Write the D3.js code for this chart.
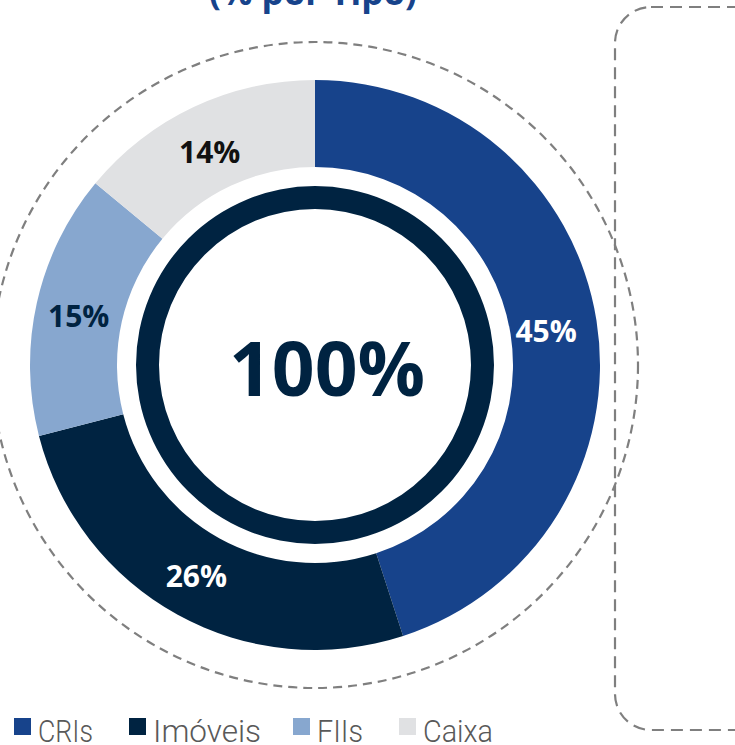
<!DOCTYPE html>
<html>
<head>
<meta charset="utf-8">
<script src="https://cdn.jsdelivr.net/npm/d3@7"></script>
<style>
  body { margin: 0; background: #fff; }
  svg { display: block; }
</style>
</head>
<body>
<div id="chart"></div>
<script>
// data
var categories = ["CRIs", "Imóveis", "FIIs", "Caixa"];
var values = [45, 26, 15, 14];
var colors = ["#17438b", "#002341", "#87a7cf", "#e0e1e3"];
var labelColors = ["#ffffff", "#ffffff", "#002341", "#111111"];
var totalLabel = "100%";
var title = "(% por Tipo)";

var width = 735, height = 745;
var cx = 315, cy = 365;

var svg = d3.select("#chart").append("svg")
    .attr("width", width)
    .attr("height", height);

// title (cut at the top)
svg.append("text")
    .attr("x", 313)
    .attr("y", 5)
    .attr("text-anchor", "middle")
    .style("font-family", "'Open Sans', sans-serif")
    .style("font-weight", "bold")
    .style("font-size", "35px")
    .style("fill", "#17438b")
    .text(title);

// dashed rounded box at the right
svg.append("rect")
    .attr("x", 615)
    .attr("y", 7)
    .attr("width", 200)
    .attr("height", 723)
    .attr("rx", 36)
    .attr("ry", 36)
    .style("fill", "none")
    .style("stroke", "#7f7f7f")
    .style("stroke-width", 2.2)
    .style("stroke-dasharray", "12,7");

var g = svg.append("g")
    .attr("transform", "translate(" + cx + "," + cy + ")");

// dashed outer circle
g.append("circle")
    .attr("r", 323)
    .style("fill", "none")
    .style("stroke", "#7f7f7f")
    .style("stroke-width", 2.2)
    .style("stroke-dasharray", "9,6");

var pie = d3.pie().sort(null).value(function(d) { return d; });
var arcs = pie(values);

var arc = d3.arc().innerRadius(198).outerRadius(285);
var labelArc = d3.arc().innerRadius(238).outerRadius(238);

g.selectAll("path.slice")
    .data(arcs)
    .enter().append("path")
    .attr("class", "slice")
    .attr("d", arc)
    .style("fill", function(d, i) { return colors[i]; });

g.selectAll("text.lbl")
    .data(arcs)
    .enter().append("text")
    .attr("class", "lbl")
    .attr("transform", function(d) {
        var c = labelArc.centroid(d);
        return "translate(" + (c[0] - 4) + "," + (c[1] + 3) + ")";
    })
    .attr("text-anchor", "middle")
    .attr("dy", "0.36em")
    .style("font-family", "'Open Sans', sans-serif")
    .style("font-weight", "bold")
    .style("font-size", "30px")
    .style("fill", function(d, i) { return labelColors[i]; })
    .text(function(d) { return d.data + "%"; });

// inner dark ring
g.append("path")
    .attr("d", d3.arc().innerRadius(156).outerRadius(179).startAngle(0).endAngle(2 * Math.PI)())
    .style("fill", "#002341");

g.append("text")
    .attr("x", 12)
    .attr("y", 4)
    .attr("dy", "0.36em")
    .attr("text-anchor", "middle")
    .style("font-family", "'Open Sans', sans-serif")
    .style("font-weight", "bold")
    .style("font-size", "75px")
    .style("fill", "#002341")
    .text(totalLabel);

// legend
var legendX = [14, 129, 293, 399];
var legendW = [55, 108, 46, 70];
var legend = svg.selectAll("g.legend")
    .data(categories)
    .enter().append("g")
    .attr("class", "legend")
    .attr("transform", function(d, i) { return "translate(" + legendX[i] + ",718)"; });

legend.append("rect")
    .attr("width", 17)
    .attr("height", 17)
    .style("fill", function(d, i) { return colors[i]; });

legend.append("text")
    .attr("x", 24)
    .attr("y", 24)
    .attr("textLength", function(d, i) { return legendW[i]; })
    .attr("lengthAdjust", "spacingAndGlyphs")
    .style("font-family", "Roboto, sans-serif")
    .style("font-weight", 300)
    .style("font-size", "32px")
    .style("fill", "#595959")
    .text(function(d) { return d; });
</script>
</body>
</html>
